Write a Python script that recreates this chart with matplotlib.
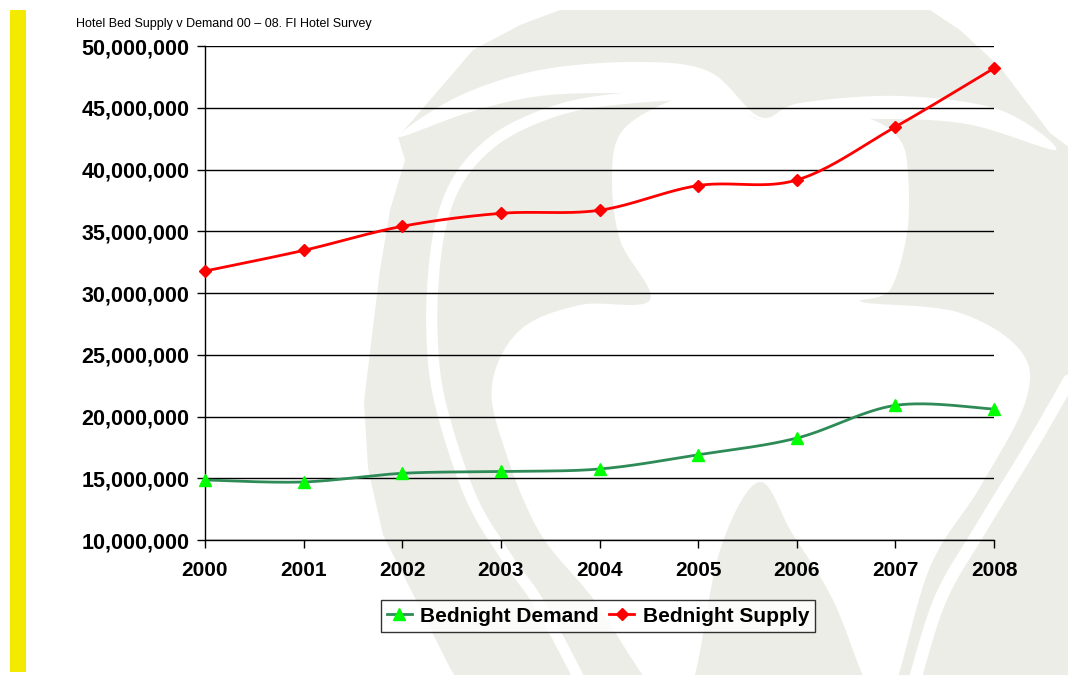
import numpy as np
import matplotlib
matplotlib.use("Agg")
import matplotlib.pyplot as plt
from matplotlib.lines import Line2D
from matplotlib.patches import Rectangle, Polygon

years = [2000, 2001, 2002, 2003, 2004, 2005, 2006, 2007, 2008]
demand = [14.86e6, 14.70e6, 15.40e6, 15.55e6, 15.75e6, 16.90e6, 18.25e6, 20.90e6, 20.60e6]
supply = [31.78e6, 33.45e6, 35.40e6, 36.45e6, 36.70e6, 38.70e6, 39.15e6, 43.45e6, 48.20e6]
series_names = ["Bednight Demand", "Bednight Supply"]
yticks = [10e6, 15e6, 20e6, 25e6, 30e6, 35e6, 40e6, 45e6, 50e6]
title = "Hotel Bed Supply v Demand 00 \u2013 08. FI Hotel Survey"

plt.rcParams['font.family'] = ['Liberation Sans', 'DejaVu Sans']


def smooth(xs, ys, n=40):
    """Excel-style smoothed line (Bezier through the points)."""
    xs = np.asarray(xs, float)
    ys = np.asarray(ys, float)
    px = np.concatenate([[xs[0]], xs, [xs[-1]]])
    py = np.concatenate([[ys[0]], ys, [ys[-1]]])
    ox, oy = [], []
    t = np.linspace(0, 1, n)
    for i in range(1, len(px) - 2):
        p0 = np.array([px[i], py[i]])
        p3 = np.array([px[i + 1], py[i + 1]])
        p1 = p0 + (np.array([px[i + 1], py[i + 1]]) - np.array([px[i - 1], py[i - 1]])) / 6
        p2 = p3 - (np.array([px[i + 2], py[i + 2]]) - np.array([px[i], py[i]])) / 6
        b = ((1 - t) ** 3)[:, None] * p0 + (3 * (1 - t) ** 2 * t)[:, None] * p1 + \
            (3 * (1 - t) * t ** 2)[:, None] * p2 + (t ** 3)[:, None] * p3
        ox.extend(b[:, 0])
        oy.extend(b[:, 1])
    return np.array(ox), np.array(oy)


def smooth_path(pts, closed=True, n=12):
    pts = [np.array(p, float) for p in pts]
    m = len(pts)
    out = []
    t = np.linspace(0, 1, n, endpoint=False)
    rng = range(m) if closed else range(m - 1)
    for i in rng:
        if closed:
            a, b, c, d = pts[(i - 1) % m], pts[i], pts[(i + 1) % m], pts[(i + 2) % m]
        else:
            a = pts[max(i - 1, 0)]
            b, c = pts[i], pts[i + 1]
            d = pts[min(i + 2, m - 1)]
        p1 = b + (c - a) / 6
        p2 = c - (d - b) / 6
        seg = ((1 - t) ** 3)[:, None] * b + (3 * (1 - t) ** 2 * t)[:, None] * p1 + \
              (3 * (1 - t) * t ** 2)[:, None] * p2 + (t ** 3)[:, None] * c
        out.extend(seg)
    if not closed:
        out.append(pts[-1])
    return np.array(out)


fig = plt.figure(figsize=(10.68, 6.75), dpi=100)
fig.patch.set_facecolor('white')

# ---- faint background watermark logo (pixel coordinates, y downwards) ----
bg = fig.add_axes([0, 0, 1, 1], zorder=-10)
bg.set_xlim(0, 1068)
bg.set_ylim(675, 0)
bg.axis('off')
wm = '#EDEDE8'

outer = [(398, 137), (405, 160), (390, 210), (380, 270), (372, 335), (364, 402),
         (368, 468), (383, 535), (417, 602), (450, 668), (470, 700), (1100, 700),
         (1100, 170), (1050, 133), (1000, 67), (960, 30), (930, 10), (560, 10),
         (520, 25), (473, 50), (430, 100)]
bg.add_patch(Polygon(outer, closed=True, facecolor=wm, edgecolor='none'))
# white band below the outer ring
band = [(398, 137), (457, 97), (540, 70), (640, 62), (710, 72), (760, 117),
        (800, 103), (900, 96), (1000, 110), (1056, 150),
        (967, 124), (870, 119), (780, 125), (700, 96), (620, 93),
        (540, 96), (470, 112)]
bg.add_patch(Polygon(smooth_path(band), closed=True, facecolor='white', edgecolor='none'))
# white curved stripe on the left
stripe = [(705, 94), (640, 97), (573, 106), (520, 125), (485, 148), (458, 180),
          (442, 220), (434, 270), (432, 335), (440, 402), (470, 495), (505, 555),
          (540, 605), (585, 690)]
sp = smooth_path(stripe, closed=False)
bg.plot(sp[:, 0], sp[:, 1], color='white', lw=8, solid_capstyle='round')
# white shamrock interior
leaf = [(760, 120), (800, 110), (867, 118), (900, 140), (908, 175), (907, 233),
        (890, 290), (862, 302), (957, 312), (1020, 350), (1026, 400), (980, 487),
        (930, 567), (893, 690), (870, 690), (833, 600), (792, 533), (759, 482),
        (720, 550), (690, 690), (655, 690), (594, 600), (540, 533), (505, 450),
        (492, 385), (520, 330), (580, 305), (650, 300), (620, 240), (612, 175),
        (623, 130), (673, 100), (715, 95)]
bg.add_patch(Polygon(smooth_path(leaf), closed=True, facecolor='white', edgecolor='none'))
# white stripe on the right
rstripe = [(1075, 370), (1035, 440), (980, 530), (940, 600), (912, 690)]
rp = smooth_path(rstripe, closed=False)
bg.plot(rp[:, 0], rp[:, 1], color='white', lw=9, solid_capstyle='round')

# yellow side bar
fig.patches.append(Rectangle((10 / 1068, 3 / 675), 16 / 1068, 662 / 675,
                             transform=fig.transFigure, facecolor='#F4EA00',
                             edgecolor='none', zorder=0))

ax = fig.add_axes([205 / 1068, 135 / 675, 789 / 1068, 494 / 675])
ax.set_facecolor('none')

dem_col = '#2E8B57'
sup_col = '#FF0000'

sx, sy = smooth(years, demand)
ax.plot(sx, sy, color=dem_col, lw=2, zorder=3, clip_on=False)
ax.plot(years, demand, linestyle='none', marker='^', markersize=8.5,
        color='#00FF00', zorder=4, clip_on=False)
sx, sy = smooth(years, supply)
ax.plot(sx, sy, color=sup_col, lw=2, zorder=3, clip_on=False)
ax.plot(years, supply, linestyle='none', marker='D', markersize=6.5,
        color=sup_col, zorder=4, clip_on=False)

ax.set_xlim(years[0], years[-1])
ax.set_ylim(yticks[0], yticks[-1])
ax.set_xticks(years)
ax.set_xticklabels([str(y) for y in years], fontsize=15, fontweight='bold')
ax.set_yticks(yticks)
ax.set_yticklabels([f"{int(v):,}" for v in yticks], fontsize=15.5, fontweight='bold')
ax.tick_params(axis='both', direction='out', length=6, width=1, color='black')
ax.tick_params(axis='y', pad=5)
ax.tick_params(axis='x', pad=9)

ax.grid(axis='y', color='black', lw=1)
ax.set_axisbelow(True)
for s in ['top', 'right']:
    ax.spines[s].set_visible(False)
for s in ['left', 'bottom']:
    ax.spines[s].set_color('black')
    ax.spines[s].set_linewidth(1)

fig.text(76 / 1068, 1 - 24 / 675, title, fontsize=9, va='center', ha='left')

handles = [
    Line2D([], [], color=dem_col, lw=2, marker='^', markersize=8.5,
           markerfacecolor='#00FF00', markeredgecolor='#00FF00'),
    Line2D([], [], color=sup_col, lw=2, marker='D', markersize=6.5,
           markerfacecolor=sup_col, markeredgecolor=sup_col),
]
leg = fig.legend(handles, series_names, loc='center', bbox_to_anchor=(598 / 1068, 1 - 616 / 675),
                 ncol=2, frameon=True, fancybox=False, edgecolor='black',
                 prop={'size': 15, 'weight': 'bold'}, handlelength=1.2,
                 handletextpad=0.4, columnspacing=0.5, borderpad=0.3)
leg.get_frame().set_linewidth(1)

fig.savefig('out.png', dpi=100, facecolor='white')
